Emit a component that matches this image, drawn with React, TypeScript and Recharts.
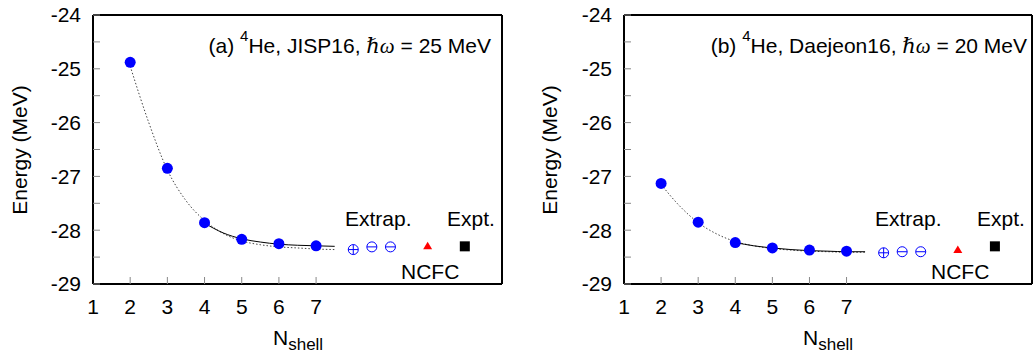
import { ComposedChart, Line, Scatter, XAxis, YAxis } from 'recharts';

// N_shell values of the calculated points
const nShell = [2, 3, 4, 5, 6, 7];
const eJisp = [-24.88, -26.85, -27.86, -28.17, -28.25, -28.29];
const eDaejeon = [-27.13, -27.85, -28.23, -28.33, -28.37, -28.39];

// extrapolated values (placed right of the data)
const extrapPos = [8, 8.5, 9];
const extrapJisp = [-28.36, -28.31, -28.31];
const extrapDaejeon = [-28.42, -28.4, -28.4];

const ncfcPos = [10];
const ncfcJisp = [-28.3];
const ncfcDaejeon = [-28.37];
const exptPos = [11];
const exptE = [-28.3];

// fit curves
const fitAllN = [2, 2.5, 3, 3.5, 4, 4.5, 5, 5.5, 6, 6.5, 7, 7.5];
const fitAllJisp = [-24.95, -26.0, -26.88, -27.45, -27.82, -28.06, -28.2, -28.27, -28.31, -28.33, -28.35, -28.36];
const fitAllDaejeon = [-27.15, -27.55, -27.86, -28.07, -28.21, -28.29, -28.34, -28.37, -28.39, -28.4, -28.41, -28.41];
const fitTailN = [4, 4.5, 5, 5.5, 6, 6.5, 7, 7.5];
const fitTailJisp = [-27.87, -28.05, -28.16, -28.22, -28.26, -28.28, -28.29, -28.3];
const fitTailDaejeon = [-28.23, -28.29, -28.33, -28.36, -28.38, -28.39, -28.4, -28.4];

const xTicks = [1, 2, 3, 4, 5, 6, 7];
const xTopTicks = [2, 3, 4, 5, 6, 7];
const yTicks = [-29, -28.5, -28, -27.5, -27, -26.5, -26, -25.5, -25, -24.5, -24];

const zip = (xs: number[], ys: number[]) => xs.map((x, i) => ({ x, y: ys[i], first: i === 0 }));

const FONT = '"Liberation Sans", Arial, Helvetica, sans-serif';

const Dot = (p: any) => <circle cx={p.cx} cy={p.cy} r={5.5} fill="#0000ff" />;
const OpenDot = (p: any) => (
  <g stroke="#0000ff" strokeWidth={1} fill="none">
    <circle cx={p.cx} cy={p.cy} r={5} />
    <line x1={p.cx - 5} x2={p.cx + 5} y1={p.cy} y2={p.cy} />
    {p.payload && p.payload.first ? <line x1={p.cx} x2={p.cx} y1={p.cy - 5} y2={p.cy + 5} /> : null}
  </g>
);
const Tri = (p: any) => (
  <polygon points={`${p.cx},${p.cy - 4.5} ${p.cx - 4.5},${p.cy + 3} ${p.cx + 4.5},${p.cy + 3}`} fill="#ff0000" />
);
const Sq = (p: any) => <rect x={p.cx - 5} y={p.cy - 5} width={10} height={10} fill="#000" />;

interface PanelProps {
  left: number;
  width: number;
  marginLeft: number;
  marginRight: number;
  points: number[];
  extrap: number[];
  ncfc: number[];
  fitAll: number[];
  fitTail: number[];
  tag: string;
  potential: string;
  hw: string;
  titleEnd: number;
}

function Panel(props: PanelProps) {
  const { left, width, marginLeft, marginRight } = props;
  const tickLine = { stroke: '#888', strokeWidth: 1 };
  const axisLine = { stroke: '#000', strokeWidth: 2 };
  return (
    <div style={{ position: 'absolute', left, top: 0, width, height: 353 }}>
      <ComposedChart
        width={width}
        height={353}
        margin={{ top: 14, right: marginRight, bottom: 68, left: marginLeft }}
      >
        <XAxis
          xAxisId="b"
          dataKey="x"
          type="number"
          domain={[1, 12]}
          ticks={xTicks}
          interval={0}
          height={1}
          tickSize={-7}
          tickMargin={22}
          axisLine={axisLine}
          tickLine={tickLine}
          tick={{ fill: '#000', fontSize: 21, fontFamily: FONT }}
        />
        <XAxis
          xAxisId="t"
          orientation="top"
          dataKey="x"
          type="number"
          domain={[1, 12]}
          ticks={xTopTicks}
          interval={0}
          height={1}
          tickSize={-7}
          axisLine={axisLine}
          tickLine={tickLine}
          tick={false}
        />
        <YAxis
          yAxisId="l"
          dataKey="y"
          type="number"
          domain={[-29, -24]}
          ticks={yTicks}
          interval={0}
          width={1}
          tickSize={-7}
          tickMargin={19}
          axisLine={axisLine}
          tickLine={tickLine}
          tickFormatter={(v: number) => (Number.isInteger(v) ? String(v) : '')}
          tick={{ fill: '#000', fontSize: 21, fontFamily: FONT }}
        />
        <YAxis
          yAxisId="r"
          orientation="right"
          dataKey="y"
          type="number"
          domain={[-29, -24]}
          ticks={yTicks}
          interval={0}
          width={1}
          tickSize={-7}
          axisLine={axisLine}
          tickLine={tickLine}
          tick={false}
        />
        <Line
          xAxisId="b"
          yAxisId="l"
          data={zip(fitAllN, props.fitAll)}
          dataKey="y"
          type="monotone"
          stroke="#444"
          strokeWidth={1}
          strokeDasharray="1.5 2"
          dot={false}
          isAnimationActive={false}
        />
        <Line
          xAxisId="b"
          yAxisId="l"
          data={zip(fitTailN, props.fitTail)}
          dataKey="y"
          type="monotone"
          stroke="#000"
          strokeWidth={1}
          dot={false}
          isAnimationActive={false}
        />
        <Scatter xAxisId="b" yAxisId="l" data={zip(nShell, props.points)} shape={Dot} isAnimationActive={false} />
        <Scatter xAxisId="b" yAxisId="l" data={zip(extrapPos, props.extrap)} shape={OpenDot} isAnimationActive={false} />
        <Scatter xAxisId="b" yAxisId="l" data={zip(ncfcPos, props.ncfc)} shape={Tri} isAnimationActive={false} />
        <Scatter xAxisId="b" yAxisId="l" data={zip(exptPos, exptE)} shape={Sq} isAnimationActive={false} />
      </ComposedChart>
      <svg
        width={width}
        height={353}
        style={{ position: 'absolute', left: 0, top: 0, pointerEvents: 'none' }}
        fontFamily={FONT}
        fontSize={21}
      >
        <text x={props.titleEnd} y={53} textAnchor="end">
          {props.tag} <tspan dy={-12} fontSize={15}>4</tspan>
          <tspan dy={12}>He, {props.potential}, </tspan>
          <tspan fontFamily='"Liberation Serif", "DejaVu Serif", serif' fontStyle="italic">ℏω</tspan>
          <tspan> = {props.hw} MeV</tspan>
        </text>
        <text x={345} y={226}>Extrap.</text>
        <text x={447} y={226}>Expt.</text>
        <text x={401} y={279}>NCFC</text>
        <text x={19} y={150} textAnchor="middle" dominantBaseline="central" transform="rotate(-90 19 150)">
          Energy (MeV)
        </text>
        <text x={273} y={345}>
          N<tspan dy={5} fontSize={17}>shell</tspan>
        </text>
      </svg>
    </div>
  );
}

export default function App() {
  return (
    <div style={{ position: 'absolute', left: 0, top: 0, width: 1033, height: 353, background: '#fff' }}>
      <Panel
        left={0}
        width={520}
        marginLeft={92}
        marginRight={17}
        points={eJisp}
        extrap={extrapJisp}
        ncfc={ncfcJisp}
        fitAll={fitAllJisp}
        fitTail={fitTailJisp}
        tag="(a)"
        potential="JISP16"
        hw="25"
        titleEnd={491}
      />
      <Panel
        left={530}
        width={503}
        marginLeft={93}
        marginRight={0}
        points={eDaejeon}
        extrap={extrapDaejeon}
        ncfc={ncfcDaejeon}
        fitAll={fitAllDaejeon}
        fitTail={fitTailDaejeon}
        tag="(b)"
        potential="Daejeon16"
        hw="20"
        titleEnd={497}
      />
    </div>
  );
}
